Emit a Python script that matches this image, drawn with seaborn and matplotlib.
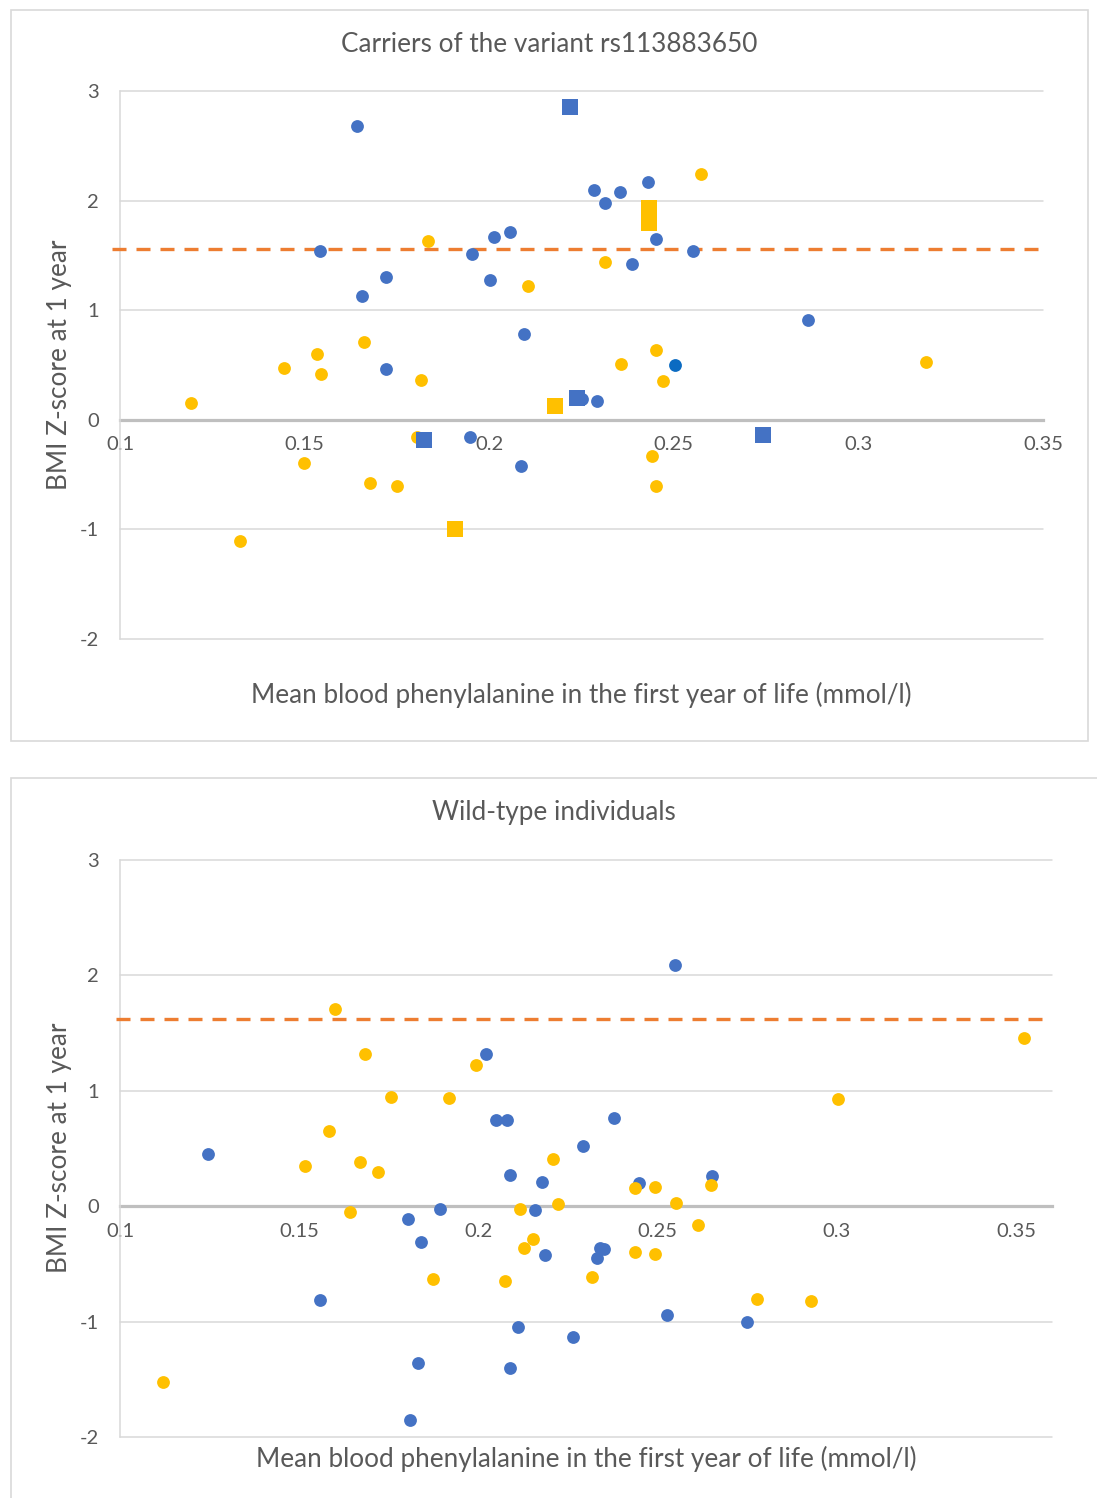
import matplotlib
matplotlib.use("Agg")
import matplotlib.pyplot as plt
import seaborn as sns
import pandas as pd
from matplotlib.patches import Rectangle

sns.set_theme(style="white")
plt.rcParams['font.family'] = ['Lato', 'DejaVu Sans']

# ---------------- data: top panel (carriers of rs113883650) ----------------
top_title = "Carriers of the variant rs113883650"
top_blue_circle_x = [0.1643, 0.1542, 0.1656, 0.1721, 0.1721, 0.1954, 0.2003, 0.2014, 0.2057,
                     0.2093, 0.2087, 0.1949, 0.2285, 0.2315, 0.2353, 0.2429, 0.2453, 0.2388,
                     0.2551, 0.2293, 0.2252, 0.2863]
top_blue_circle_y = [2.68, 1.54, 1.13, 1.30, 0.46, 1.51, 1.28, 1.67, 1.71,
                     0.78, -0.42, -0.16, 2.10, 1.98, 2.08, 2.17, 1.65, 1.42,
                     1.54, 0.17, 0.19, 0.91]
top_darkblue_circle_x = [0.2502]
top_darkblue_circle_y = [0.50]
top_blue_square_x = [0.2220, 0.2239, 0.1824, 0.2741]
top_blue_square_y = [2.85, 0.20, -0.18, -0.14]
top_yellow_circle_x = [0.1193, 0.1325, 0.1445, 0.1534, 0.1545, 0.1499, 0.1662, 0.1678, 0.1751,
                       0.1816, 0.1805, 0.1835, 0.2106, 0.2315, 0.2358, 0.2453, 0.2472, 0.2442,
                       0.2453, 0.2575, 0.3183]
top_yellow_circle_y = [0.15, -1.11, 0.47, 0.60, 0.42, -0.39, 0.71, -0.58, -0.60,
                       0.36, -0.16, 1.63, 1.22, 1.44, 0.51, 0.64, 0.35, -0.33,
                       -0.60, 2.24, 0.53]
top_yellow_square_x = [0.1908, 0.2177, 0.2432, 0.2432]
top_yellow_square_y = [-1.00, 0.13, 1.93, 1.80]
top_threshold = 1.56
top_xticks = [0.1, 0.15, 0.2, 0.25, 0.3, 0.35]
top_xticklabels = ["0.1", "0.15", "0.2", "0.25", "0.3", "0.35"]

# ---------------- data: bottom panel (wild-type) ----------------
bot_title = "Wild-type individuals"
bot_blue_circle_x = [0.1246, 0.1559, 0.1804, 0.1841, 0.1832, 0.1810, 0.1894, 0.2020, 0.2050,
                     0.2081, 0.2087, 0.2159, 0.2176, 0.2187, 0.2109, 0.2087, 0.2265, 0.2291,
                     0.2377, 0.2338, 0.2349, 0.2330, 0.2447, 0.2547, 0.2651, 0.2525, 0.2749]
bot_blue_circle_y = [0.45, -0.81, -0.11, -0.31, -1.36, -1.85, -0.02, 1.32, 0.75,
                     0.75, 0.27, -0.03, 0.21, -0.42, -1.05, -1.40, -1.13, 0.52,
                     0.76, -0.36, -0.37, -0.45, 0.20, 2.09, 0.26, -0.94, -1.00]
bot_yellow_circle_x = [0.1120, 0.1517, 0.1584, 0.1601, 0.1642, 0.1670, 0.1684, 0.1721, 0.1757,
                       0.1872, 0.1919, 0.1992, 0.2075, 0.2117, 0.2128, 0.2151, 0.2207, 0.2223,
                       0.2318, 0.2436, 0.2492, 0.2436, 0.2492, 0.2550, 0.2612, 0.2648, 0.2777,
                       0.2927, 0.3003, 0.3522]
bot_yellow_circle_y = [-1.52, 0.35, 0.65, 1.71, -0.05, 0.38, 1.32, 0.30, 0.95,
                       -0.63, 0.94, 1.22, -0.65, -0.02, -0.36, -0.28, 0.41, 0.02,
                       -0.61, 0.16, 0.17, -0.40, -0.41, 0.03, -0.16, 0.18, -0.80,
                       -0.82, 0.93, 1.46]
bot_threshold = 1.62
bot_xticks = [0.1, 0.15, 0.2, 0.25, 0.3, 0.35]
bot_xticklabels = ["0.1", "0.15", "0.2", "0.25", "0.3", "0.35"]

yticks = [-2, -1, 0, 1, 2, 3]
yticklabels = ["-2", "-1", "0", "1", "2", "3"]
xlabel = "Mean blood phenylalanine in the first year of life (mmol/l)"
ylabel = "BMI Z-score at 1 year"

BLUE = "#4472C4"
DARKBLUE = "#0B6BC2"
YELLOW = "#FFC000"
ORANGE = "#ED7D31"
GRID = "#D9D9D9"
ZERO = "#BFBFBF"
TEXT = "#595959"
LABEL_FS = 18.8
TICK_FS = 14.5

W, H = 1097, 1498
fig = plt.figure(figsize=(W / 100, H / 100), dpi=100)
fig.patch.set_facecolor("white")

def fx(px):
    return px / W

def fy(py):
    return 1 - py / H

# panel borders
fig.patches.append(Rectangle((fx(11), fy(741)), fx(1088) - fx(11), fy(10) - fy(741),
                             transform=fig.transFigure, fill=False, edgecolor="#D9D9D9",
                             linewidth=1.2, zorder=0))
fig.patches.append(Rectangle((fx(11), fy(1510)), fx(1110) - fx(11), fy(778) - fy(1510),
                             transform=fig.transFigure, fill=False, edgecolor="#D9D9D9",
                             linewidth=1.2, zorder=0, clip_on=False))


def scatter(ax, x, y, color, marker, s):
    df = pd.DataFrame({"x": x, "y": y})
    sns.scatterplot(data=df, x="x", y="y", ax=ax, color=color, marker=marker, s=s,
                    linewidth=0, zorder=4, legend=False)


def style_axes(ax, xlim, xticks, xticklabels, thr, dash_x0):
    ax.set_xlim(*xlim)
    ax.set_ylim(-2, 3)
    for v in yticks:
        if v != 0:
            ax.axhline(v, color=GRID, linewidth=1.1, zorder=1, clip_on=False)
    ax.axhline(thr, xmin=dash_x0, xmax=1.0, color=ORANGE, linewidth=2.4,
               linestyle=(0, (4.2, 3.0)), zorder=3, clip_on=False)
    for side in ["top", "right"]:
        ax.spines[side].set_visible(False)
    ax.spines["left"].set_color(GRID)
    ax.spines["left"].set_linewidth(1.1)
    ax.spines["bottom"].set_position(("data", 0))
    ax.spines["bottom"].set_color(ZERO)
    ax.spines["bottom"].set_linewidth(2.3)
    ax.spines["bottom"].set_zorder(2)
    ax.set_xticks(xticks)
    ax.set_xticklabels(xticklabels)
    ax.set_yticks(yticks)
    ax.set_yticklabels(yticklabels)
    ax.tick_params(axis="both", length=0, labelsize=TICK_FS, labelcolor=TEXT)
    ax.tick_params(axis="x", pad=12)
    ax.tick_params(axis="y", pad=15)
    ax.set_xlabel("")
    ax.set_ylabel("")
    ax.grid(False)
    ax.set_facecolor("none")


# ---------------- top panel ----------------
ax1 = fig.add_axes([fx(120), fy(639), fx(1043) - fx(120), fy(91) - fy(639)])
scatter(ax1, top_yellow_circle_x, top_yellow_circle_y, YELLOW, "o", 85)
scatter(ax1, top_blue_circle_x, top_blue_circle_y, BLUE, "o", 85)
scatter(ax1, top_darkblue_circle_x, top_darkblue_circle_y, DARKBLUE, "o", 85)
scatter(ax1, top_yellow_square_x, top_yellow_square_y, YELLOW, "s", 140)
scatter(ax1, top_blue_square_x, top_blue_square_y, BLUE, "s", 140)
style_axes(ax1, (0.1, 0.35), top_xticks, top_xticklabels, top_threshold, -0.009)

fig.text(fx(549), fy(45), top_title, ha="center", va="center", fontsize=LABEL_FS, color=TEXT)
fig.text(fx(581), fy(695), xlabel, ha="center", va="center", fontsize=LABEL_FS, color=TEXT)
fig.text(fx(60), fy(365), ylabel, ha="center", va="center", rotation=90, fontsize=LABEL_FS, color=TEXT)

# ---------------- bottom panel ----------------
ax2 = fig.add_axes([fx(120), fy(1437), fx(1052) - fx(120), fy(860) - fy(1437)])
scatter(ax2, bot_blue_circle_x, bot_blue_circle_y, BLUE, "o", 85)
scatter(ax2, bot_yellow_circle_x, bot_yellow_circle_y, YELLOW, "o", 85)
style_axes(ax2, (0.1, 0.36), bot_xticks, bot_xticklabels, bot_threshold, -0.004)

fig.text(fx(554), fy(813), bot_title, ha="center", va="center", fontsize=LABEL_FS, color=TEXT)
fig.text(fx(586), fy(1459), xlabel, ha="center", va="center", fontsize=LABEL_FS, color=TEXT)
fig.text(fx(60), fy(1148), ylabel, ha="center", va="center", rotation=90, fontsize=LABEL_FS, color=TEXT)

fig.savefig("out.png", dpi=100, facecolor="white")
